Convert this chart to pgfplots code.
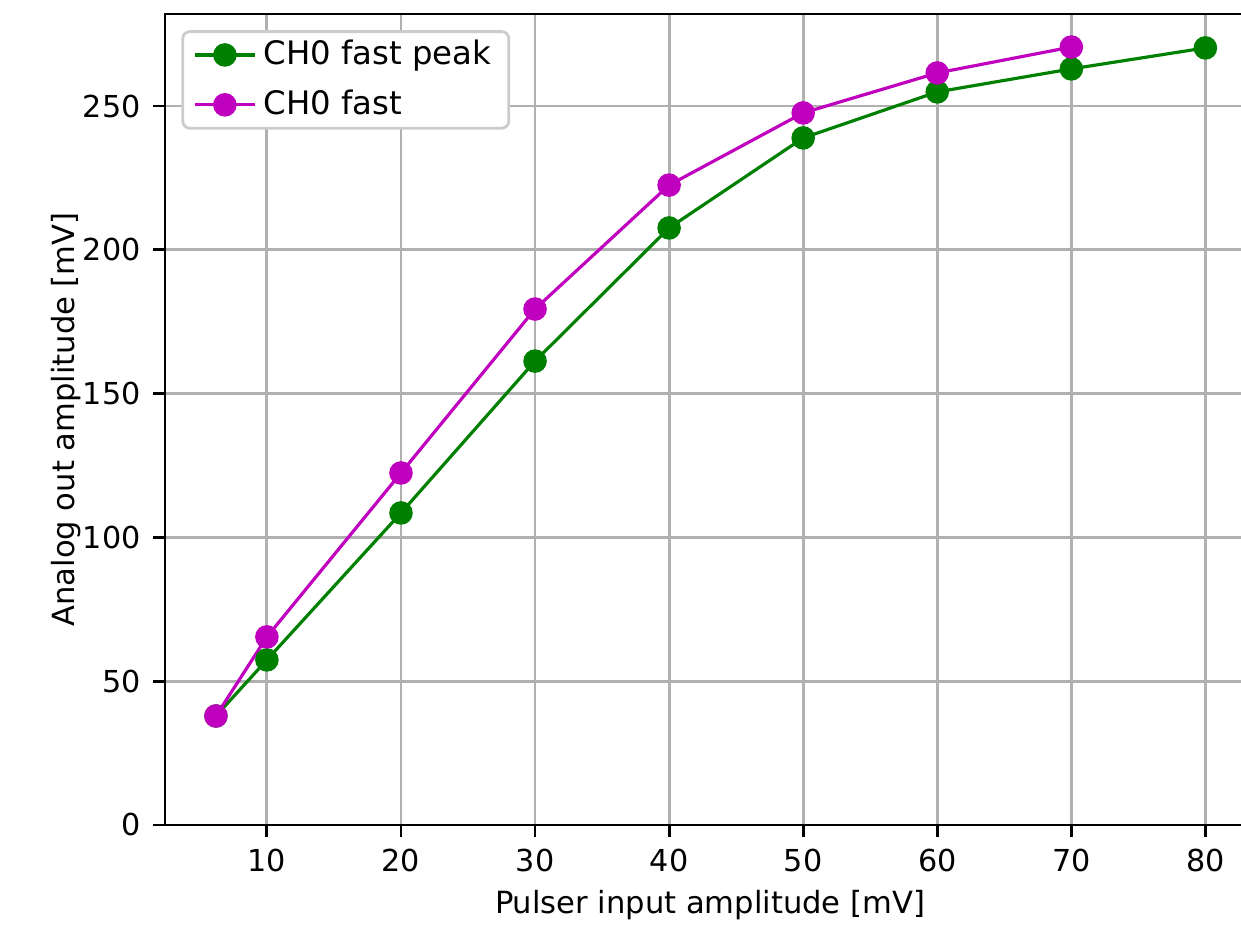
\documentclass[border=0pt]{standalone}
\usepackage{pgfplots}
\pgfplotsset{compat=1.18}
\usepackage{fontspec}
\setmainfont{DejaVu Sans}
\definecolor{mplgreen}{RGB}{0,128,0}
\definecolor{mplmag}{RGB}{191,0,191}
\begin{document}
\begin{tikzpicture}
\begin{axis}[
  at={(1.65cm,1.0cm)}, anchor=south west,
  scale only axis, width=10.90cm, height=8.11cm,
  xmin=2.4, xmax=83.7, ymin=0, ymax=282,
  xtick={10,20,...,80}, ytick={0,50,...,250},
  grid=major, grid style={color=black!31, line width=0.8pt},
  axis line style={line width=0.8pt},
  tick align=outside, tick style={black, line width=0.8pt}, major tick length=1.2mm,
  xtick pos=bottom, ytick pos=left,
  /pgf/number format/assume math mode=true,
  tick label style={font=\fontsize{8.6}{10}\selectfont},
  label style={font=\fontsize{8.7}{10}\selectfont},
  xlabel={Pulser input amplitude [mV]},
  ylabel={Analog out amplitude [mV]},
  ylabel shift=-2.2mm,
  xlabel shift=-0.6mm,
  legend cell align=left,
  legend style={font=\fontsize{9.2}{11}\selectfont, draw=black!20, rounded corners=2pt, line width=0.8pt, at={(0.015,0.98)}, anchor=north west, inner xsep=3pt, inner ysep=0.4pt, row sep=1.7pt},
]
\addplot[mplgreen, line width=0.9pt, mark=*, mark size=2.9pt] coordinates {
 (6.2,37.9) (10,57.4) (20,108.5) (30,161.3) (40,207.6) (50,238.9) (60,254.9) (70,262.9) (80,270.2)};
\addlegendentry{CH0 fast peak}
\addplot[mplmag, line width=0.9pt, mark=*, mark size=2.9pt] coordinates {
 (6.2,37.9) (10,65.4) (20,122.4) (30,179.4) (40,222.5) (50,247.6) (60,261.5) (70,270.5)};
\addlegendentry{CH0 fast}
\end{axis}
\pgfresetboundingbox
\useasboundingbox (0,0) rectangle (12.41cm,9.25cm);
\end{tikzpicture}
\end{document}
